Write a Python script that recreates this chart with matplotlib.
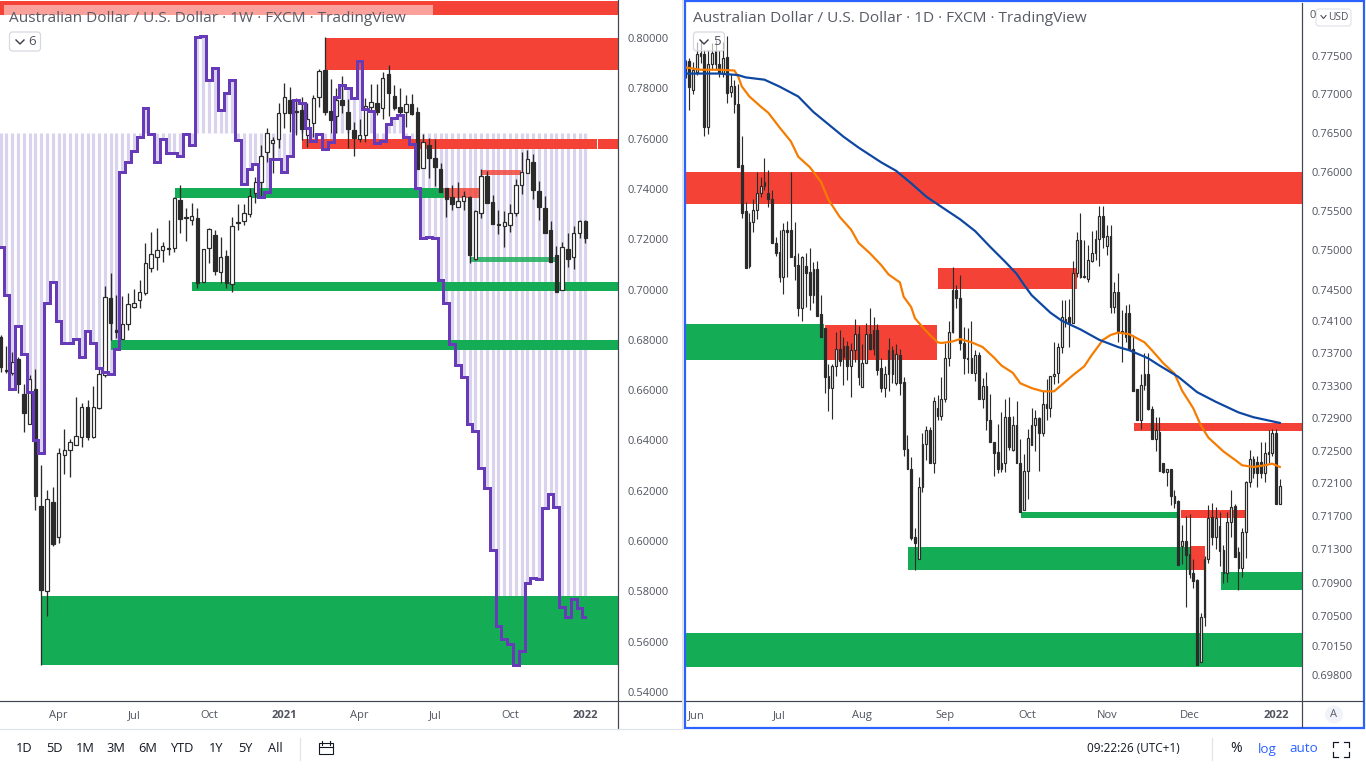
import matplotlib
matplotlib.use("Agg")
import matplotlib.pyplot as plt
from matplotlib.patches import Circle, FancyBboxPatch, Rectangle
from matplotlib.ticker import FixedLocator, FuncFormatter, NullLocator

# weekly AUD/USD candles
w_open = [.6811,.6680,.6668,.6724,.6584,.6465,.6604,.6139,.5801,.6155,
          .6016,.6342,.6362,.6382,.6413,.6533,.6413,.6529,.6660,.6966,
          .6839,.6803,.6863,.6930,.6958,.6986,.7085,.7129,.7157,.7165,
          .7165,.7356,.7288,.7276,.7284,.7030,.7165,.7217,.7070,.7133,
          .7022,.7268,.7272,.7300,.7384,.7427,.7547,.7582,.7598,.7702,
          .7753,.7706,.7714,.7614,.7662,.7765,.7873,.7710,.7690,.7753,
          .7706,.7634,.7598,.7614,.7726,.7741,.7722,.7857,.7769,.7726,
          .7706,.7738,.7706,.7483,.7574,.7523,.7479,.7404,.7368,.7328,
          .7352,.7368,.7121,.7304,.7451,.7348,.7260,.7252,.7256,.7304,
          .7415,.7463,.7507,.7392,.7324,.7237,.7137,.6998,.7161,.7129,
          .7225,.7272]
w_high = [.6819,.6775,.6751,.6732,.6624,.6660,.6684,.6302,.6203,.6215,
          .6370,.6445,.6406,.6573,.6549,.6561,.6616,.6692,.7014,.7066,
          .6978,.6974,.6986,.7002,.7038,.7185,.7229,.7244,.7189,.7276,
          .7368,.7415,.7324,.7344,.7324,.7161,.7244,.7237,.7209,.7157,
          .7288,.7340,.7340,.7404,.7447,.7574,.7642,.7606,.7741,.7821,
          .7805,.7761,.7765,.7741,.7773,.7877,.8004,.7837,.7801,.7849,
          .7757,.7666,.7678,.7761,.7817,.7817,.7865,.7893,.7813,.7801,
          .7773,.7777,.7726,.7618,.7602,.7598,.7503,.7404,.7415,.7427,
          .7392,.7372,.7316,.7479,.7471,.7376,.7316,.7312,.7340,.7439,
          .7547,.7555,.7539,.7431,.7372,.7272,.7173,.7189,.7225,.7252,
          .7276,.7276]
w_low = [.6672,.6668,.6660,.6588,.6433,.6465,.6123,.5507,.5702,.5980,
         .5992,.6266,.6254,.6382,.6374,.6402,.6410,.6525,.6652,.6799,
         .6807,.6803,.6839,.6926,.6926,.6978,.7070,.7078,.7109,.7137,
         .7149,.7225,.7193,.7256,.7006,.7030,.7105,.7058,.7026,.7006,
         .6990,.7237,.7256,.7288,.7344,.7368,.7507,.7463,.7563,.7642,
         .7626,.7614,.7594,.7566,.7606,.7726,.7694,.7622,.7622,.7702,
         .7563,.7531,.7586,.7586,.7706,.7694,.7678,.7690,.7714,.7694,
         .7646,.7694,.7479,.7483,.7443,.7411,.7388,.7288,.7316,.7328,
         .7316,.7105,.7117,.7284,.7344,.7260,.7221,.7169,.7229,.7292,
         .7380,.7463,.7360,.7276,.7225,.7109,.6990,.6998,.7089,.7081,
         .7205,.7185]
w_close = [.6692,.6676,.6712,.6624,.6509,.6644,.6179,.5805,.6167,.5988,
           .6350,.6362,.6394,.6417,.6533,.6413,.6533,.6664,.6970,.6867,
           .6831,.6863,.6942,.6946,.6990,.7105,.7141,.7157,.7173,.7161,
           .7364,.7280,.7284,.7292,.7026,.7161,.7240,.7074,.7129,.7026,
           .7252,.7264,.7304,.7372,.7427,.7531,.7622,.7594,.7702,.7765,
           .7702,.7710,.7638,.7678,.7761,.7869,.7706,.7674,.7753,.7734,
           .7638,.7602,.7614,.7730,.7745,.7706,.7841,.7781,.7722,.7706,
           .7738,.7698,.7479,.7586,.7523,.7487,.7388,.7360,.7340,.7352,
           .7372,.7137,.7312,.7451,.7344,.7260,.7256,.7268,.7304,.7415,
           .7467,.7519,.7396,.7328,.7225,.7109,.6990,.7169,.7121,.7225,
           .7272,.7205]

# purple overlay series on the weekly chart and its baseline
w_overlay = [.7169,.6978,.6604,.6855,.6744,.6592,.6402,.6350,.6946,.7030,
             .6875,.6787,.6787,.6803,.6732,.6835,.6787,.6688,.6672,.6664,
             .6763,.7467,.7507,.7551,.7606,.7722,.7618,.7507,.7598,.7543,
             .7543,.7531,.7618,.7574,.8004,.8008,.7833,.7881,.7714,.7781,
             .7833,.7594,.7419,.7479,.7499,.7368,.7388,.7519,.7519,.7467,
             .7531,.7753,.7741,.7642,.7590,.7618,.7559,.7586,.7765,.7813,
             .7801,.7761,.7908,.7718,.7710,.7582,.7590,.7658,.7682,.7694,
             .7606,.7578,.7404,.7205,.7209,.7205,.7038,.6946,.6783,.6700,
             .6652,.6465,.6437,.6290,.6211,.5964,.5662,.5610,.5590,.5507,
             .5563,.5833,.5853,.5849,.6131,.6187,.6135,.5738,.5698,.5769,
             .5734,.5698]
w_baseline = .7622

# weekly supply/demand zones: start bar, end bar, top price, bottom price
w_zone_start = [-1, 56, 52, 103.2, 7, 19.1, 33.1, 30.1, 76.6, 83.2, 81.1]
w_zone_end = [110, 110, 103, 110, 110, 110, 110, 76.6, 82.6, 89.9, 95.9]
w_zone_top = [.8147, .8000, .7598, .7598, .5781, .6800, .7030, .7404, .7404, .7475, .7129]
w_zone_bot = [.8091, .7873, .7559, .7559, .5507, .6759, .6994, .7364, .7364, .7455, .7109]
w_zone_kind = ["supply", "supply", "supply", "supply", "demand", "demand", "demand",
               "demand", "supply", "supply", "demand"]
w_zone_soft = [False, False, False, False, False, False, False, False, True, True, True]

w_ticks = [.80, .78, .76, .74, .72, .70, .68, .66, .64, .62, .60, .58, .56, .54]
w_date_bars = [10, 23, 36, 49, 62, 75, 88, 101]
w_date_labels = ["Apr", "Jul", "Oct", "2021", "Apr", "Jul", "Oct", "2022"]

# daily AUD/USD candles
d_open = [.7742,.7744,.7706,.7729,.7750,.7753,.7658,.7740,.7757,.7739,
          .7728,.7749,.7703,.7711,.7687,.7608,.7549,.7480,.7535,.7551,
          .7573,.7582,.7573,.7565,.7509,.7497,.7466,.7525,.7525,.7492,
          .7481,.7427,.7480,.7472,.7443,.7476,.7419,.7402,.7342,.7327,
          .7354,.7375,.7365,.7379,.7354,.7374,.7394,.7328,.7358,.7394,
          .7375,.7399,.7352,.7327,.7345,.7374,.7333,.7368,.7335,.7252,
          .7228,.7145,.7118,.7205,.7258,.7275,.7235,.7303,.7293,.7313,
          .7364,.7397,.7450,.7439,.7383,.7364,.7364,.7346,.7368,.7314,
          .7329,.7288,.7261,.7248,.7228,.7235,.7291,.7251,.7281,.7235,
          .7177,.7225,.7257,.7281,.7290,.7271,.7307,.7303,.7342,.7346,
          .7378,.7413,.7415,.7408,.7471,.7513,.7467,.7463,.7486,.7496,
          .7514,.7543,.7505,.7518,.7428,.7447,.7398,.7390,.7421,.7375,
          .7326,.7288,.7331,.7344,.7301,.7264,.7273,.7235,.7224,.7227,
          .7194,.7188,.7134,.7140,.7124,.7101,.7093,.6996,.7049,.7118,
          .7169,.7145,.7158,.7129,.7101,.7163,.7183,.7127,.7107,.7151,
          .7212,.7240,.7236,.7236,.7223,.7248,.7247,.7271,.7185]
d_high = [.7745,.7748,.7742,.7768,.7771,.7758,.7758,.7767,.7771,.7758,
          .7768,.7776,.7727,.7718,.7713,.7646,.7561,.7547,.7565,.7600,
          .7593,.7618,.7602,.7577,.7517,.7526,.7534,.7537,.7600,.7535,
          .7496,.7492,.7496,.7503,.7485,.7486,.7443,.7402,.7357,.7357,
          .7397,.7399,.7390,.7385,.7383,.7413,.7404,.7382,.7408,.7427,
          .7416,.7407,.7364,.7355,.7389,.7379,.7382,.7375,.7341,.7269,
          .7242,.7156,.7218,.7271,.7280,.7279,.7316,.7318,.7341,.7383,
          .7410,.7479,.7456,.7469,.7403,.7402,.7410,.7374,.7372,.7339,
          .7347,.7320,.7261,.7283,.7297,.7314,.7316,.7293,.7311,.7264,
          .7246,.7277,.7303,.7300,.7291,.7323,.7338,.7342,.7384,.7383,
          .7437,.7437,.7438,.7486,.7523,.7547,.7513,.7506,.7524,.7525,
          .7556,.7556,.7532,.7532,.7459,.7471,.7424,.7431,.7432,.7393,
          .7326,.7344,.7370,.7370,.7305,.7291,.7291,.7235,.7228,.7228,
          .7202,.7190,.7160,.7170,.7173,.7118,.7094,.7054,.7122,.7184,
          .7186,.7181,.7175,.7135,.7175,.7202,.7185,.7133,.7156,.7213,
          .7251,.7244,.7244,.7261,.7261,.7275,.7277,.7277,.7215]
d_low = [.7721,.7679,.7701,.7725,.7741,.7646,.7648,.7732,.7732,.7723,
         .7722,.7689,.7697,.7676,.7606,.7541,.7477,.7477,.7523,.7539,
         .7567,.7577,.7555,.7509,.7492,.7460,.7445,.7466,.7491,.7462,
         .7417,.7410,.7428,.7424,.7433,.7417,.7390,.7321,.7299,.7289,
         .7342,.7355,.7331,.7337,.7316,.7359,.7331,.7328,.7358,.7374,
         .7368,.7343,.7322,.7316,.7323,.7333,.7331,.7318,.7243,.7227,
         .7141,.7105,.7118,.7200,.7238,.7235,.7223,.7287,.7288,.7310,
         .7355,.7396,.7427,.7374,.7344,.7346,.7346,.7336,.7313,.7302,
         .7275,.7261,.7219,.7222,.7224,.7224,.7251,.7250,.7235,.7175,
         .7177,.7191,.7257,.7249,.7225,.7268,.7288,.7291,.7332,.7333,
         .7370,.7403,.7378,.7408,.7466,.7465,.7465,.7460,.7485,.7487,
         .7480,.7503,.7494,.7421,.7421,.7384,.7359,.7384,.7374,.7323,
         .7287,.7277,.7325,.7300,.7264,.7250,.7225,.7223,.7207,.7184,
         .7180,.7111,.7112,.7061,.7095,.7083,.6992,.6996,.7038,.7113,
         .7135,.7131,.7110,.7089,.7091,.7145,.7121,.7081,.7097,.7119,
         .7206,.7217,.7206,.7217,.7212,.7235,.7244,.7185,.7185]
d_close = [.7725,.7709,.7732,.7752,.7754,.7658,.7740,.7754,.7739,.7728,
           .7748,.7702,.7711,.7687,.7606,.7547,.7477,.7536,.7551,.7573,
           .7582,.7587,.7565,.7509,.7496,.7466,.7526,.7523,.7491,.7480,
           .7427,.7491,.7471,.7443,.7476,.7417,.7391,.7341,.7327,.7355,
           .7375,.7360,.7379,.7354,.7374,.7394,.7341,.7358,.7394,.7375,
           .7399,.7350,.7327,.7345,.7374,.7344,.7369,.7333,.7252,.7228,
           .7144,.7138,.7205,.7258,.7275,.7235,.7311,.7293,.7313,.7364,
           .7397,.7450,.7439,.7383,.7364,.7363,.7346,.7368,.7314,.7329,
           .7288,.7261,.7247,.7228,.7235,.7291,.7255,.7281,.7235,.7175,
           .7225,.7266,.7281,.7290,.7271,.7307,.7303,.7342,.7345,.7378,
           .7416,.7408,.7408,.7471,.7513,.7466,.7466,.7487,.7496,.7514,
           .7543,.7517,.7518,.7428,.7447,.7397,.7397,.7421,.7374,.7324,
           .7288,.7331,.7344,.7301,.7264,.7275,.7225,.7224,.7227,.7194,
           .7186,.7111,.7140,.7123,.7100,.7092,.6992,.7049,.7118,.7168,
           .7145,.7168,.7128,.7101,.7163,.7181,.7121,.7107,.7151,.7212,
           .7240,.7223,.7223,.7223,.7247,.7246,.7271,.7185,.7207]

# moving averages on the daily chart
ma_fast_bars = [0, 4, 9, 13, 14, 15, 17, 20, 22, 25, 28, 30, 33, 36, 38, 41, 44, 46, 49, 52,
                54, 57, 58, 60, 61, 63, 65, 67, 68, 71, 73, 76, 79, 82, 84, 87, 89, 92, 95, 98,
                100, 103, 106, 108, 111, 113, 115, 118, 122, 124, 127, 130, 132, 135, 137, 139,
                143, 146, 148, 151, 154, 156, 158]
ma_fast = [.7735, .7732, .7732, .7731, .7723, .7710, .7697, .7684, .7676, .7657, .7639, .7619,
           .7606, .7587, .7564, .7542, .7526, .7509, .7496, .7481, .7469, .7459, .7441, .7428,
           .7414, .7403, .7393, .7384, .7383, .7385, .7388, .7384, .7378, .7365, .7355, .7346,
           .7333, .7327, .7323, .7323, .7331, .7343, .7354, .7368, .7387, .7393, .7396, .7394,
           .7384, .7374, .7358, .7345, .7324, .7302, .7281, .7266, .7249, .7239, .7232, .7230,
           .7232, .7234, .7230]
ma_slow_bars = [0, 9, 14, 16, 21, 25, 30, 34, 38, 42, 46, 52, 56, 60, 64, 68, 73, 77, 81, 85,
                88, 90, 92, 97, 100, 105, 110, 115, 118, 123, 126, 131, 136, 141, 147, 151, 155, 158]
ma_slow = [.7727, .7727, .7725, .7722, .7719, .7710, .7697, .7677, .7661, .7645, .7631, .7612,
           .7601, .7585, .7568, .7555, .7539, .7524, .7504, .7485, .7470, .7456, .7443, .7421,
           .7411, .7400, .7387, .7378, .7374, .7364, .7355, .7341, .7322, .7310, .7297, .7291,
           .7287, .7284]

# daily zones
d_zone_start = [-1, -1, 37, 67.1, 119.2, 131.7, 89.2, 134.4, 59.1, 142.4, -1]
d_zone_end = [170, 36.8, 66.9, 104.1, 170, 149, 131.2, 138.1, 134.4, 170, 170]
d_zone_top = [.7599, .7407, .7406, .7477, .7284, .7177, .7175, .7134, .7133, .7103, .7030]
d_zone_bot = [.7558, .7362, .7362, .7451, .7274, .7168, .7168, .7105, .7105, .7081, .6990]
d_zone_kind = ["supply", "demand", "supply", "supply", "supply", "supply", "demand",
               "supply", "demand", "demand", "demand"]
d_zone_soft = [False] * 11

d_ticks = [.775, .77, .765, .76, .755, .75, .745, .741, .737, .733, .729, .725, .721, .717,
           .713, .709, .705, .7015, .698]
d_date_bars = [3, 25, 47, 69, 91, 112, 134, 157]
d_date_labels = ["Jun", "Jul", "Aug", "Sep", "Oct", "Nov", "Dec", "2022"]

periods = ["1D", "5D", "1M", "3M", "6M", "YTD", "1Y", "5Y", "All"]

RED = "#F44336"
GREEN = "#14AD55"
PURPLE = "#673AB7"
STRIPE = "#DAD3EE"
DARK = "#2B2B2B"
LINE = "#434651"
TEXT = "#50535E"
FONT = "Open Sans"
PX = 0.72  # points per pixel at dpi 100

plt.rcParams["font.family"] = [FONT, "DejaVu Sans"]
W, H = 1366, 768
fig = plt.figure(figsize=(W / 100, H / 100), dpi=100, facecolor="white")


def panel(x0, y0, x1, y1):
    ax = fig.add_axes([x0 / W, 1 - y1 / H, (x1 - x0) / W, (y1 - y0) / H])
    for side in ax.spines.values():
        side.set_visible(False)
    return ax


def draw_zones(ax, start, end, top, bot, kind, soft):
    for s, e, t, b, k, f in zip(start, end, top, bot, kind, soft):
        colour = RED if k == "supply" else GREEN
        ax.fill_between([s, e], b, t, color=colour, alpha=0.82 if f else 1.0, lw=0, zorder=2)


def draw_candles(ax, o, h, l, c, width, wick_w):
    bars = range(len(o))
    ax.vlines(bars, l, h, color=DARK, lw=wick_w, zorder=3)
    fills = ["white" if cl > op else DARK for op, cl in zip(o, c)]
    bottoms = [min(op, cl) for op, cl in zip(o, c)]
    heights = [abs(op - cl) for op, cl in zip(o, c)]
    ax.bar(bars, heights, bottom=bottoms, width=width, color=fills,
           edgecolor=DARK, linewidth=1.2 * PX, zorder=4)


def dress_axis(ax, ticks, fmt_bars, fmt_labels):
    ax.yaxis.tick_right()
    ax.yaxis.set_major_locator(FixedLocator(ticks))
    ax.yaxis.set_minor_locator(NullLocator())
    ax.yaxis.set_major_formatter(FuncFormatter(lambda v, _: f"{v:.5f}"))
    ax.tick_params(axis="y", length=0, pad=9.5 * PX, labelsize=8.0, labelcolor=TEXT)
    ax.set_xticks(fmt_bars)
    ax.set_xticklabels(fmt_labels)
    ax.tick_params(axis="x", length=0, pad=9 * PX, labelsize=8.0, labelcolor=TEXT)
    for lab in ax.get_xticklabels():
        if lab.get_text().isdigit():
            lab.set_fontweight("bold")


# weekly panel
ax_w = panel(0, 0, 618, 701)
ax_w.set_xlim(-0.12, 106.65)
ax_w.set_ylim(.5364, .8151)
w_bars = range(len(w_overlay))
ax_w.vlines(w_bars, w_baseline, w_overlay, color=STRIPE, lw=3.2 * PX, zorder=1)
draw_zones(ax_w, w_zone_start, w_zone_end, w_zone_top, w_zone_bot, w_zone_kind, w_zone_soft)
draw_candles(ax_w, w_open, w_high, w_low, w_close, 0.6, 1.3 * PX)
ax_w.plot(w_bars, w_overlay, drawstyle="steps-mid", color=PURPLE, lw=3 * PX, zorder=5,
          solid_joinstyle="miter")
dress_axis(ax_w, w_ticks, w_date_bars, w_date_labels)

# daily panel
ax_d = panel(686, 3, 1302, 701)
ax_d.set_yscale("log")
ax_d.set_xlim(0.13, 163.9)
ax_d.set_ylim(.69496, .78197)
draw_zones(ax_d, d_zone_start, d_zone_end, d_zone_top, d_zone_bot, d_zone_kind, d_zone_soft)
draw_candles(ax_d, d_open, d_high, d_low, d_close, 0.46, 1.15 * PX)
ax_d.plot(ma_fast_bars, ma_fast, color="#F57C00", lw=2.2 * PX, zorder=5)
ax_d.plot(ma_slow_bars, ma_slow, color="#0D47A1", lw=2.2 * PX, zorder=5)
dress_axis(ax_d, d_ticks, d_date_bars, d_date_labels)

# overlay in pixel coordinates for the chart frame and toolbar
ui = fig.add_axes([0, 0, 1, 1], zorder=10)
ui.set_xlim(0, W)
ui.set_ylim(H, 0)
ui.axis("off")
ui.patch.set_alpha(0)

ui.add_patch(Rectangle((4, 5), 429, 10, fc="white", ec="none", alpha=0.5))
ui.plot([618, 618], [0, 729], color=LINE, lw=1.2 * PX)
ui.plot([0, 682], [701, 701], color=LINE, lw=1.2 * PX)
ui.plot([0, 683], [729, 729], color="#E0E3EB", lw=1.2 * PX)
ui.plot([682.5, 682.5], [0, 729], color="#E0E3EB", lw=2 * PX)
ui.plot([686, 1363], [701, 701], color=LINE, lw=1.2 * PX)
ui.plot([1302, 1302], [3, 727], color=LINE, lw=1.2 * PX)
ui.add_patch(Rectangle((685, 1), 679, 727, fc="none", ec="#2962FF", lw=2.2 * PX))

title_style = dict(fontsize=11.05, color="#585B66", va="center", ha="left")
ui.text(9, 19, "Australian Dollar / U.S. Dollar · 1W · FXCM · TradingView", **title_style)
ui.text(693, 19, "Australian Dollar / U.S. Dollar · 1D · FXCM · TradingView", **title_style)

for x0, n, face in ((9.5, "6", (1, 1, 1, 1)), (693.5, "5", (1, 1, 1, 0.65))):
    ui.add_patch(FancyBboxPatch((x0, 32), 31, 19, boxstyle="round,pad=0,rounding_size=3",
                                fc=face, ec="#D6D8E0", lw=1.2 * PX))
    ui.plot([x0 + 6.5, x0 + 10.5, x0 + 14.5], [40, 44, 40], color="#3A3D48", lw=1.4 * PX)
    ui.text(x0 + 23, 41.5, n, fontsize=9.6, color="#50535E", ha="center", va="center")

# currency button
ui.text(1313, 16, "0", fontsize=8.0, color=TEXT, ha="center", va="center")
ui.add_patch(FancyBboxPatch((1316, 9), 35, 17, boxstyle="round,pad=0,rounding_size=3",
                            fc="white", ec="#E0E3EB", lw=1.2 * PX))
ui.plot([1321, 1323.5, 1326], [15.5, 18.5, 15.5], color="#3A3D48", lw=1 * PX)
ui.text(1338, 17.5, "USD", fontsize=7.4, color=TEXT, ha="center", va="center")

ui.add_patch(Circle((1334, 714.5), 9, fc="#F0F3FA", ec="none"))
ui.text(1334, 714.5, "A", fontsize=8, color="#5D606B", ha="center", va="center")

# bottom toolbar
for label, x in zip(periods, (24, 54, 85, 116, 148, 182, 216, 245, 275)):
    ui.text(x, 749, label, fontsize=9.2, color="#131722", ha="center", va="center")
ui.plot([300, 300], [738, 760], color="#E0E3EB", lw=1.2 * PX)
ui.add_patch(Rectangle((319, 743), 14, 11, fc="none", ec="#131722", lw=1.1 * PX))
ui.plot([319, 333], [747, 747], color="#131722", lw=1.1 * PX)
ui.plot([322, 322], [741, 745], color="#131722", lw=1.1 * PX)
ui.plot([330, 330], [741, 745], color="#131722", lw=1.1 * PX)

ui.text(1133, 749, "09:22:26 (UTC+1)", fontsize=8.5, color="#131722", ha="center", va="center")
ui.plot([1212, 1212], [738, 760], color="#E0E3EB", lw=1.2 * PX)
ui.text(1236, 749, "%", fontsize=10, color="#131722", ha="center", va="center")
ui.text(1267, 749, "log", fontsize=9.6, color="#2962FF", ha="center", va="center")
ui.text(1304, 749, "auto", fontsize=9.6, color="#2962FF", ha="center", va="center")
for cx, cy, dx, dy in ((1333, 742, 1, 1), (1349, 742, -1, 1), (1333, 757, 1, -1), (1349, 757, -1, -1)):
    ui.plot([cx + 5 * dx, cx, cx], [cy, cy, cy + 5 * dy], color="#131722", lw=1.2 * PX)

fig.savefig("out.png", dpi=100)
